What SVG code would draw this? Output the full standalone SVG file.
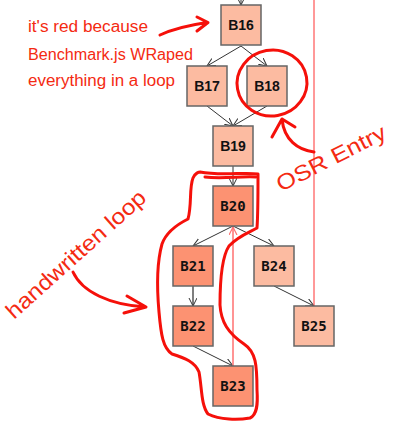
<svg xmlns="http://www.w3.org/2000/svg" width="400" height="431" viewBox="0 0 400 431">
<style>
.box{stroke:#666;stroke-width:1.5}
.light{fill:#fcbba1}
.dark{fill:#fc9272}
.lbl1{font-family:"Liberation Sans",Arial,sans-serif;font-weight:bold;font-size:14px;fill:#111;text-anchor:middle}
.lbl2{font-family:"DejaVu Sans Mono",monospace;font-weight:bold;font-size:14px;fill:#111;text-anchor:middle}
.edge{stroke:#333;stroke-width:1;fill:none;marker-end:url(#arr)}
.hand{font-family:"Liberation Sans",Arial,sans-serif;fill:#f42a12}
.ink{fill:none;stroke:#f5100a;stroke-width:3;stroke-linecap:round;stroke-linejoin:round}
</style>
<defs>
<marker id="arr" markerWidth="10" markerHeight="10" refX="8" refY="4" orient="auto" markerUnits="userSpaceOnUse">
<path d="M0,0 L8,4 L0,8" fill="none" stroke="#333" stroke-width="1"/>
</marker>
<marker id="arrR" markerWidth="10" markerHeight="10" refX="8" refY="4" orient="auto" markerUnits="userSpaceOnUse">
<path d="M0,0 L8,4 L0,8" fill="none" stroke="#ff7070" stroke-width="1.2"/>
</marker>
</defs>

<g id="connectors">
<path class="edge" d="M241,0 L241,5"/>
<path class="edge" d="M241,46 L207,66"/>
<path class="edge" d="M241,46 L267,66"/>
<path class="edge" d="M207,106 L233,126"/>
<path class="edge" d="M267,106 L233,126"/>
<path class="edge" d="M233,166 L233,186"/>
<path class="edge" d="M233,226 L193,246"/>
<path class="edge" d="M233,226 L274,246"/>
<path class="edge" d="M193,286 L193,306" style="stroke:#555;stroke-width:1.5"/>
<path class="edge" d="M193,346 L233,366"/>
<path class="edge" d="M274,286 L314,306"/>
<path d="M233,366 L233,227" fill="none" stroke="#ff7070" stroke-width="1.5" marker-end="url(#arrR)"/>
<path d="M314,306 L314,0" fill="none" stroke="#f33" stroke-width="1"/>
</g>

<g id="B16"><rect class="box light" x="221" y="5" width="40" height="40"/><text class="lbl1" x="241" y="30">B16</text></g>
<g id="B17"><rect class="box light" x="187" y="66" width="40" height="40"/><text class="lbl1" x="207" y="91">B17</text></g>
<g id="B18"><rect class="box light" x="247" y="66" width="40" height="40"/><text class="lbl1" x="267" y="91">B18</text></g>
<g id="B19"><rect class="box light" x="213" y="126" width="40" height="40"/><text class="lbl1" x="233" y="151">B19</text></g>
<g id="B20"><rect class="box dark" x="213" y="186" width="40" height="40"/><text class="lbl2" x="233" y="211">B20</text></g>
<g id="B21"><rect class="box dark" x="173" y="246" width="40" height="40"/><text class="lbl2" x="193" y="271">B21</text></g>
<g id="B24"><rect class="box light" x="254" y="246" width="40" height="40"/><text class="lbl2" x="274" y="271">B24</text></g>
<g id="B22"><rect class="box dark" x="173" y="306" width="40" height="40"/><text class="lbl2" x="193" y="331">B22</text></g>
<g id="B25"><rect class="box light" x="294" y="306" width="40" height="40"/><text class="lbl2" x="314" y="331">B25</text></g>
<g id="B23"><rect class="box dark" x="213" y="366" width="40" height="40"/><text class="lbl2" x="233" y="391">B23</text></g>

<g id="annotations">
<text class="hand" font-size="16" x="28" y="32" textLength="120" lengthAdjust="spacingAndGlyphs">it's red because</text>
<text class="hand" font-size="16" x="28" y="60" textLength="165" lengthAdjust="spacingAndGlyphs">Benchmark.js WRaped</text>
<text class="hand" font-size="16" x="28" y="86" textLength="147" lengthAdjust="spacingAndGlyphs">everything in a loop</text>
<path class="ink" d="M160,35 C175,28 190,25 207,22.5 M197,17 L208,22.5 L197,31"/>
<ellipse class="ink" cx="272" cy="83" rx="35" ry="33" transform="rotate(-10 272 83)"/>
<path class="ink" d="M314,152 C298,150 284,140 282,119 M272,137 L282,119 L295,127"/>
<text class="hand" font-size="22" transform="translate(281,192) rotate(-27)" textLength="120" lengthAdjust="spacingAndGlyphs">OSR Entry</text>
<text class="hand" font-size="22" transform="translate(14,320) rotate(-42)" textLength="180" lengthAdjust="spacingAndGlyphs">handwritten loop</text>
<path class="ink" d="M73,272 C82,292 110,305 146,307 M127,296 L146,307 L124,313"/>
<path class="ink" d="M200,172 C220,176 245,172 258,174 C258,190 258,215 257,228 C250,232 238,236 229,246 C221,258 220,285 220,305 C221,322 228,333 244,344 C256,352 257,365 257,390 C258,405 257,415 250,418 C238,420 220,420 208,414 C201,405 202,388 199,372 C195,362 185,358 172,354 C163,348 161,335 159,312 C157,290 157,262 162,244 C167,230 180,223 188,219 C192,205 189,188 193,178 C195,173 199,172 200,172"/>
<path class="ink" d="M205,177 C222,179 242,176 256,177" stroke-width="2"/>
</g>
</svg>
